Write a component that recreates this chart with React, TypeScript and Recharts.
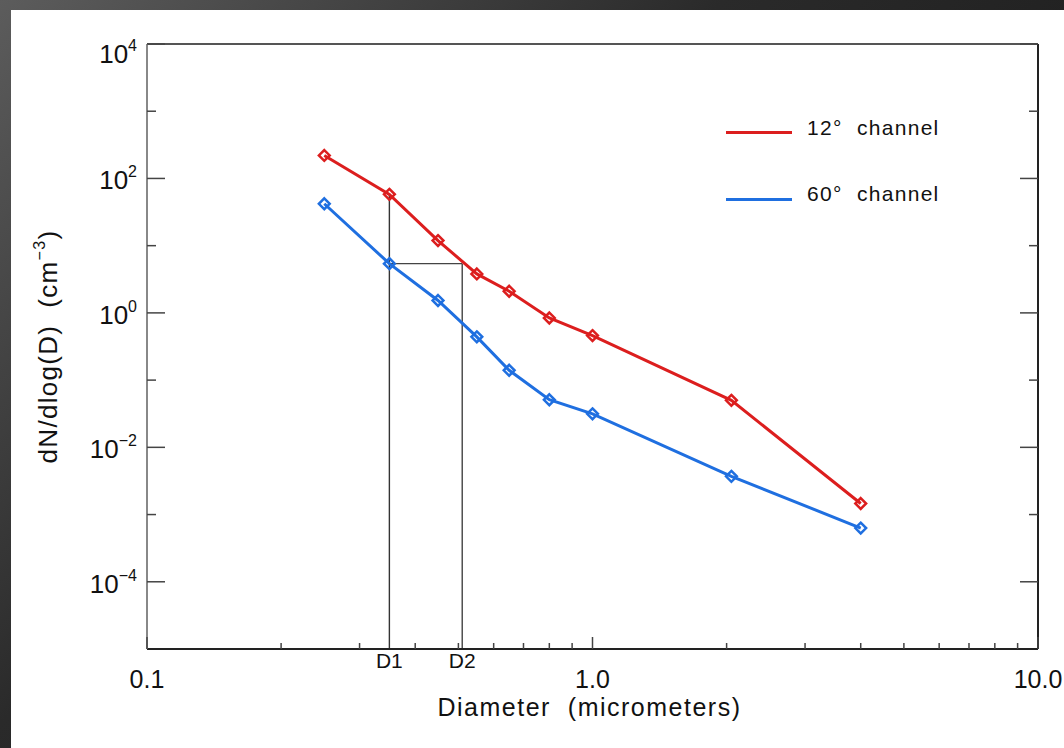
import React from "react";
import { ComposedChart, Line, XAxis, YAxis, ReferenceLine, Legend, Label } from "recharts";

// ---------- data ----------
const DIAMETERS = [0.25, 0.35, 0.45, 0.55, 0.65, 0.8, 1.0, 2.05, 4.0];
const CHANNEL_12 = [220, 58, 11.9, 3.8, 2.1, 0.84, 0.46, 0.05, 0.00146];
const CHANNEL_60 = [42, 5.4, 1.53, 0.44, 0.14, 0.051, 0.0315, 0.0037, 0.00063];
const SERIES_NAMES = ["12°  channel", "60°  channel"];
const SERIES_COLORS = ["#dc1e1e", "#1f6fe0"];

const X_DOMAIN = [0.1, 10];
const X_MAJOR = [0.1, 1, 10];
const X_MAJOR_LABELS = ["0.1", "1.0", "10.0"];
const X_MINOR = [0.2, 0.3, 0.4, 0.5, 0.6, 0.7, 0.8, 0.9, 2, 3, 4, 5, 6, 7, 8, 9];
const D1 = DIAMETERS[1];
const D2 = 0.51;
const X_MARKS = [D1, D2];
const X_MARK_LABELS = ["D1", "D2"];

const Y_DOMAIN = [1e-5, 1e4];
const Y_MAJOR = [1e4, 1e2, 1, 1e-2, 1e-4];
const Y_MAJOR_EXPONENTS = ["4", "2", "0", "−2", "−4"];
const Y_MINOR = [1e3, 10, 0.1, 1e-3];

const X_TITLE = "Diameter  (micrometers)";
const Y_TITLE = "dN/dlog(D)  (cm";
const Y_TITLE_SUP = "−3";

const data = DIAMETERS.map((d, i) => ({ d, ch12: CHANNEL_12[i], ch60: CHANNEL_60[i] }));

// ---------- styling ----------
const FONT = '"Liberation Sans", Arial, Helvetica, sans-serif';
const INK = "#111";
const TICK_COLOR = "#444";

const near = (a: number, b: number) => Math.abs(Math.log10(a) - Math.log10(b)) < 1e-6;
const idxOf = (arr: number[], v: number) => arr.findIndex((a) => near(a, v));

const makeDiamond = (color: string) => (p: any) => {
  const { cx, cy, index } = p;
  if (cx == null || cy == null || isNaN(cx) || isNaN(cy)) return <g key={`e-${color}-${index}`} />;
  const r = 5.4;
  return (
    <path
      key={`d-${color}-${index}`}
      d={`M${cx},${cy - r}L${cx + r},${cy}L${cx},${cy + r}L${cx - r},${cy}Z`}
      fill="none"
      stroke={color}
      strokeWidth={2.5}
    />
  );
};

function BottomTick(props: any) {
  const { x, y, payload } = props;
  const v = payload.value;
  const di = idxOf(X_MARKS, v);
  if (di >= 0) {
    return (
      <text x={x} y={y + 19} textAnchor="middle" fontSize={21} fontFamily={FONT} fill={INK}>
        {X_MARK_LABELS[di]}
      </text>
    );
  }
  const mi = idxOf(X_MAJOR, v);
  const len = mi >= 0 ? 12 : 6;
  return (
    <g>
      <line x1={x} x2={x} y1={y} y2={y - len} stroke={TICK_COLOR} strokeWidth={1.5} />
      {mi >= 0 && (
        <text x={x} y={y + 39} textAnchor="middle" fontSize={25} fontFamily={FONT} fill={INK}>
          {X_MAJOR_LABELS[mi]}
        </text>
      )}
    </g>
  );
}

function TopTick(props: any) {
  const { x, y, payload } = props;
  const v = payload.value;
  const mi = idxOf(X_MAJOR, v);
  const len = mi >= 0 ? 12 : 6;
  return <line x1={x} x2={x} y1={y} y2={y + len} stroke={TICK_COLOR} strokeWidth={1.5} />;
}

function LeftTick(props: any) {
  const { x, y, payload } = props;
  const v = payload.value;
  const mi = idxOf(Y_MAJOR, v);
  const len = mi >= 0 ? 18 : 9;
  const base = mi === 0 ? 19 : 11;
  return (
    <g>
      <line x1={x} x2={x + len} y1={y} y2={y} stroke={TICK_COLOR} strokeWidth={1.5} />
      {mi >= 0 && (
        <text x={x - 10} y={y + base} textAnchor="end" fontSize={26} fontFamily={FONT} fill={INK}>
          <tspan>10</tspan>
          <tspan dy={-12} fontSize={16}>
            {Y_MAJOR_EXPONENTS[mi]}
          </tspan>
        </text>
      )}
    </g>
  );
}

function RightTick(props: any) {
  const { x, y, payload } = props;
  const v = payload.value;
  const mi = idxOf(Y_MAJOR, v);
  const len = mi >= 0 ? 18 : 9;
  return <line x1={x} x2={x - len} y1={y} y2={y} stroke={TICK_COLOR} strokeWidth={1.5} />;
}

function XTitle(props: any) {
  const vb = props.viewBox || {};
  return (
    <text
      x={vb.x + vb.width / 2 - 3}
      y={vb.y + 67}
      textAnchor="middle"
      fontSize={25}
      fontFamily={FONT}
      fill={INK}
      letterSpacing={1.5}
      style={{ whiteSpace: "pre" }}
    >
      {X_TITLE}
    </text>
  );
}

function YTitle(props: any) {
  const vb = props.viewBox || {};
  const cx = vb.x + 10;
  const cy = vb.y + vb.height / 2;
  return (
    <text
      transform={`translate(${cx},${cy}) rotate(-90)`}
      x={0}
      y={0}
      textAnchor="middle"
      fontSize={26}
      fontFamily={FONT}
      fill={INK}
      letterSpacing={1.3}
      style={{ whiteSpace: "pre" }}
    >
      <tspan>{Y_TITLE}</tspan>
      <tspan dy={-12} fontSize={16}>
        {Y_TITLE_SUP}
      </tspan>
      <tspan dy={12}>)</tspan>
    </text>
  );
}

function LegendContent(props: any) {
  const payload = props.payload || [];
  return (
    <div style={{ position: "relative", width: 260, height: 110 }}>
      {payload.map((item: any, i: number) => {
        const lineTop = i === 0 ? 21 : 88;
        const textTop = i === 0 ? 7 : 73;
        return (
          <React.Fragment key={`lg-${i}`}>
            <div
              style={{
                position: "absolute",
                left: 0,
                top: lineTop,
                width: 66,
                height: 0,
                borderTop: `3px solid ${item.color}`,
              }}
            />
            <div
              style={{
                position: "absolute",
                left: 81,
                top: textTop,
                fontFamily: FONT,
                fontSize: 21,
                lineHeight: "22px",
                letterSpacing: 1.3,
                whiteSpace: "pre",
                color: INK,
              }}
            >
              {item.value}
            </div>
          </React.Fragment>
        );
      })}
    </div>
  );
}

export default function App() {
  return (
    <div
      style={{
        position: "absolute",
        left: 0,
        top: 0,
        width: 1064,
        height: 748,
        overflow: "hidden",
        background: "linear-gradient(135deg, #5c5c5c 0%, #2a2a2a 40%, #121212 100%)",
      }}
    >
      <div style={{ position: "absolute", left: 11, top: 10, width: 1053, height: 738, background: "#ffffff" }}>
        <ComposedChart
          width={1053}
          height={738}
          data={data}
          margin={{ top: 14, right: 6, bottom: 19, left: 36 }}
        >
          <XAxis
            xAxisId={0}
            dataKey="d"
            type="number"
            scale="log"
            domain={X_DOMAIN}
            allowDataOverflow
            ticks={[...X_MAJOR, ...X_MINOR, ...X_MARKS]}
            interval={0}
            tick={BottomTick}
            tickLine={false}
            tickSize={0}
            tickMargin={0}
            height={80}
            axisLine={{ stroke: "#222", strokeWidth: 2 }}
          >
            <Label content={XTitle} />
          </XAxis>
          <XAxis
            xAxisId="top"
            orientation="top"
            type="number"
            scale="log"
            domain={X_DOMAIN}
            allowDataOverflow
            ticks={[...X_MAJOR, ...X_MINOR]}
            interval={0}
            tick={TopTick}
            tickLine={false}
            tickSize={0}
            tickMargin={0}
            height={20}
            axisLine={{ stroke: "#555", strokeWidth: 2 }}
          />
          <YAxis
            yAxisId={0}
            type="number"
            scale="log"
            domain={Y_DOMAIN}
            allowDataOverflow
            ticks={[...Y_MAJOR, ...Y_MINOR]}
            interval={0}
            tick={LeftTick}
            tickLine={false}
            tickSize={0}
            tickMargin={0}
            width={100}
            axisLine={{ stroke: "#888", strokeWidth: 2 }}
          >
            <Label content={YTitle} />
          </YAxis>
          <YAxis
            yAxisId="right"
            orientation="right"
            type="number"
            scale="log"
            domain={Y_DOMAIN}
            allowDataOverflow
            ticks={[...Y_MAJOR, ...Y_MINOR]}
            interval={0}
            tick={RightTick}
            tickLine={false}
            tickSize={0}
            tickMargin={0}
            width={20}
            axisLine={{ stroke: "#222", strokeWidth: 2 }}
          />
          <ReferenceLine
            segment={[
              { x: D1, y: Y_DOMAIN[0] },
              { x: D1, y: CHANNEL_12[1] },
            ]}
            stroke="#333"
            strokeWidth={1.4}
            ifOverflow="visible"
          />
          <ReferenceLine
            segment={[
              { x: D2, y: Y_DOMAIN[0] },
              { x: D2, y: CHANNEL_60[1] },
            ]}
            stroke="#444"
            strokeWidth={1.4}
            ifOverflow="visible"
          />
          <ReferenceLine
            segment={[
              { x: D1, y: CHANNEL_60[1] },
              { x: D2, y: CHANNEL_60[1] },
            ]}
            stroke="#444"
            strokeWidth={1.4}
            ifOverflow="visible"
          />
          <Line
            type="linear"
            dataKey="ch12"
            name={SERIES_NAMES[0]}
            stroke={SERIES_COLORS[0]}
            strokeWidth={3}
            dot={makeDiamond(SERIES_COLORS[0])}
            activeDot={false}
            isAnimationActive={false}
          />
          <Line
            type="linear"
            dataKey="ch60"
            name={SERIES_NAMES[1]}
            stroke={SERIES_COLORS[1]}
            strokeWidth={3}
            dot={makeDiamond(SERIES_COLORS[1])}
            activeDot={false}
            isAnimationActive={false}
          />
          <Legend
            layout="vertical"
            align="center"
            verticalAlign="middle"
            content={LegendContent}
            wrapperStyle={{ left: 715, top: 100, width: 260, height: 110 }}
          />
        </ComposedChart>
      </div>
    </div>
  );
}
